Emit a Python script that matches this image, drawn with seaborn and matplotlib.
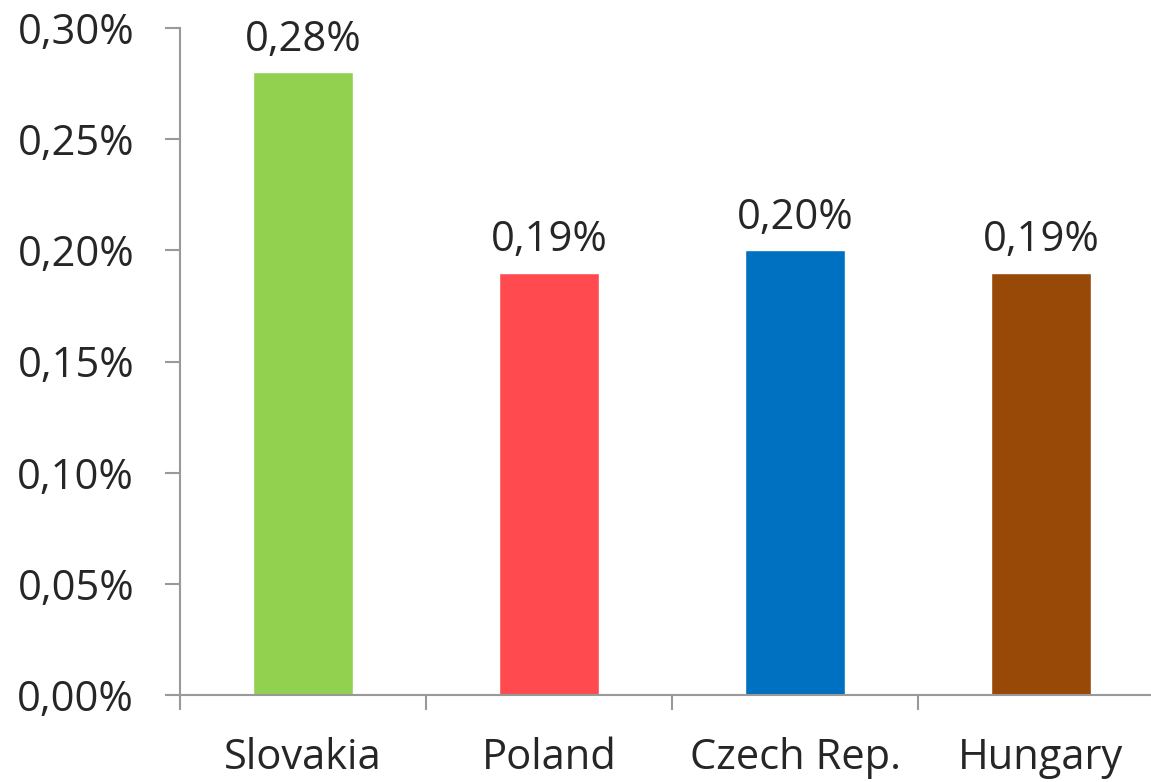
import matplotlib
matplotlib.use("Agg")
import matplotlib.pyplot as plt
import seaborn as sns
import pandas as pd
from matplotlib.ticker import FuncFormatter, FixedLocator

countries = ["Slovakia", "Poland", "Czech Rep.", "Hungary"]
values = [0.28, 0.19, 0.20, 0.19]
colors = ["#92D050", "#FF4B4F", "#0070C0", "#984807"]
yticks = [0.00, 0.05, 0.10, 0.15, 0.20, 0.25, 0.30]

sns.set_style("white")
plt.rcParams["font.family"] = ["Open Sans", "DejaVu Sans"]

df = pd.DataFrame({"country": countries, "value": values})

W, H = 1151, 782
fig = plt.figure(figsize=(W / 100, H / 100), dpi=100)
ax = fig.add_axes([180 / W, 1 - 695 / H, (1164 - 180) / W, (695 - 28) / H])

sns.barplot(data=df, x="country", y="value", hue="country", palette=colors,
            width=0.407, legend=False, ax=ax, saturation=1)

ax.set_xlim(-0.5, len(countries) - 0.5)
ax.set_ylim(0, 0.30)
ax.set_yticks(yticks)
ax.yaxis.set_major_formatter(FuncFormatter(lambda v, p: f"{v:.2f}%".replace(".", ",")))

# x ticks at category boundaries, labels at centers
ax.set_xticks(range(len(countries)))
ax.set_xticklabels(countries)
ax.xaxis.set_minor_locator(FixedLocator([i - 0.5 for i in range(len(countries) + 1)]))
ax.tick_params(axis="x", which="both", bottom=True)
ax.tick_params(axis="y", which="both", left=True)
ax.tick_params(axis="x", which="major", length=0, pad=30, labelsize=30)
ax.tick_params(axis="x", which="minor", length=11, width=1.5, color="#999999", direction="out")
ax.tick_params(axis="y", length=11, width=1.5, color="#999999", direction="out", labelsize=30, pad=22)

for s in ["top", "right"]:
    ax.spines[s].set_visible(False)
for s in ["left", "bottom"]:
    ax.spines[s].set_color("#999999")
    ax.spines[s].set_linewidth(1.5)

ax.set_xlabel("")
ax.set_ylabel("")

for i, v in enumerate(values):
    ax.annotate(f"{v:.2f}%".replace(".", ","), (i, v), xytext=(0, 8),
                textcoords="offset points", ha="center", va="bottom", fontsize=30)

fig.savefig("out.png", dpi=100)
